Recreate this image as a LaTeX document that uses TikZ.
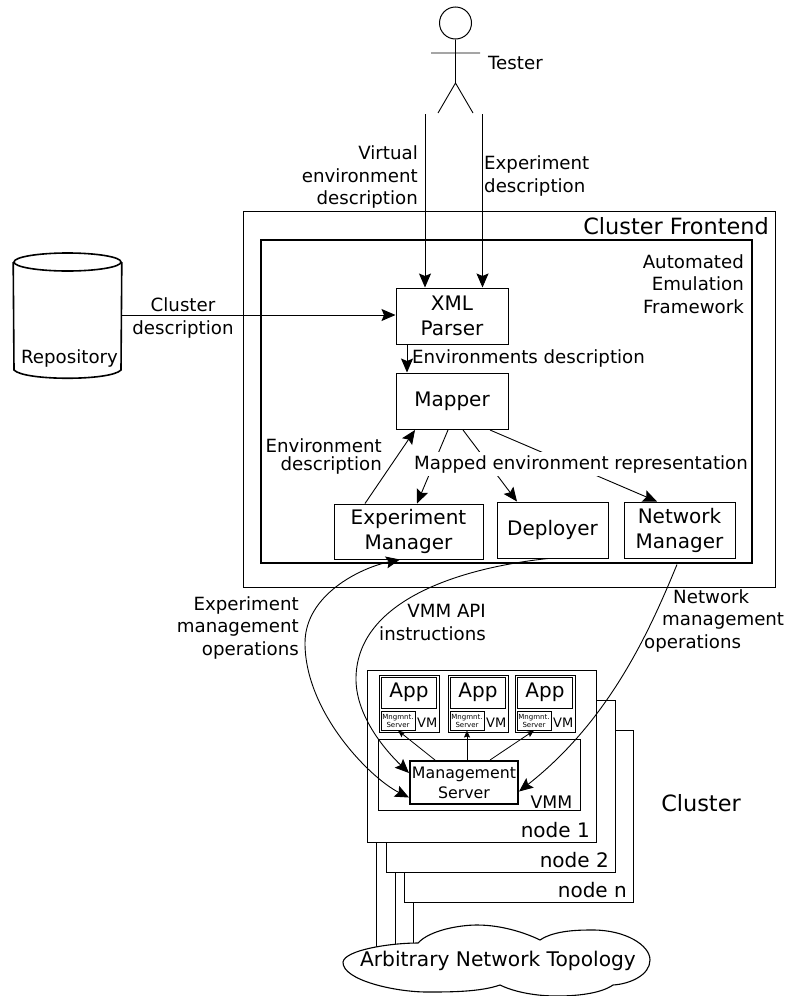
\documentclass[tikz,border=0pt]{standalone}
\usepackage{fontspec}
\setmainfont{DejaVu Sans}
\usetikzlibrary{arrows.meta, shapes.geometric}

\begin{document}
\begin{tikzpicture}[x=1pt, y=-1pt, >={Stealth[length=14pt,width=12pt,inset=2.5pt]},
  lbl/.style={inner sep=0pt, align=center, font=\fontsize{18.2}{22.7}\selectfont},
  box/.style={draw, fill=white, line width=1pt, inner sep=0pt, align=center, font=\fontsize{20}{25}\selectfont},
  arr/.style={->, line width=0.9pt},
  tinyarr/.style={-{Stealth[length=7pt,width=6pt,inset=1pt]}, line width=0.8pt}]
\useasboundingbox (0,0) rectangle (786,996);

% Tester
\node[draw, circle, line width=1pt, minimum size=32pt, inner sep=0pt] (head) at (455.5,23) {};
\coordinate (hip) at (455.5,83);
\coordinate (armL) at (431,53);
\coordinate (armR) at (480,53);
\coordinate (footL) at (438,113);
\coordinate (footR) at (473,113);
\draw[line width=0.9pt] (head.south)--(hip) (armL)--(armR) (footL)--(hip)--(footR);
\node[lbl, anchor=west] (tester) at (488,63) {Tester};

% Frontend
\node[draw, line width=1pt, minimum width=532pt, minimum height=376pt] (frontend) at (509,399) {};
\node[inner sep=0pt, anchor=north east, font=\fontsize{22.4}{26}\selectfont] (frontendlbl) at (769,217) {Cluster Frontend};
\node[draw, line width=2pt, minimum width=491pt, minimum height=323pt] (aef) at (506.5,401.5) {};
\node[lbl, align=right, anchor=north east] (aeflbl) at (744,254) {Automated\\Emulation\\Framework};

% Components
\node[box, minimum width=112pt, minimum height=56pt] (parser) at (452,316) {XML\\Parser};
\node[box, minimum width=112pt, minimum height=56.5pt] (mapper) at (452,401.25) {Mapper};
\node[box, minimum width=149pt, minimum height=55pt] (expman) at (408.5,531.5) {Experiment\\Manager};
\node[box, minimum width=111pt, minimum height=56pt] (deployer) at (552.5,530) {Deployer};
\node[box, minimum width=111pt, minimum height=56pt] (netman) at (679.5,530) {Network\\Manager};

% Repository
\node[draw, ellipse, line width=1.6pt, minimum width=107pt, minimum height=18pt, inner sep=0pt] (repotop) at (67.5,262) {};
\coordinate (repobl) at (14,370);
\coordinate (repobr) at (121,370);
\coordinate (repo) at (121,315);
\draw[line width=1.6pt] (repotop.west)--(repobl) .. controls (24,381) and (111,381) .. (repobr)--(repotop.east);
\node[lbl, anchor=south] (repolbl) at (69.5,367) {Repository};

% Input arrows
\coordinate (virt) at (425,114);
\coordinate (expd) at (482.5,114);
\draw[arr] (virt)--(virt |- parser.north);
\draw[arr] (expd)--(expd |- parser.north);
\draw[arr] (repo)--(repo -| parser.west);
\draw[arr] ([xshift=-45pt]parser.south)--([xshift=-45pt]mapper.north);
\node[lbl, align=right, anchor=north east] (virtlbl) at (418,145.5) {Virtual\\environment\\description};
\node[lbl, align=left, anchor=north west] (expdlbl) at (484,155.5) {Experiment\\description};
\node[lbl, anchor=center] (repoarrlbl) at (183,318) {Cluster\\description};
\node[lbl, anchor=west] (envslbl) at (412,358) {Environments description};

% Mapper edges
\draw[arr] ([xshift=-43.5pt]expman.north)--([xshift=-37pt]mapper.south);
\draw[arr] ([xshift=-4pt]mapper.south)--([xshift=8.5pt]expman.north);
\draw[arr] ([xshift=11pt]mapper.south)--([xshift=-35.5pt]deployer.north);
\draw[arr] ([xshift=38pt]mapper.south)--([xshift=-22.5pt]netman.north);
\node[lbl, align=right, anchor=north east] (envlbl) at (382,438) {Environment\\[-4.5pt]description};
\node[lbl, fill=white, anchor=west, inner xsep=1pt, inner ysep=3pt] (mappedlbl) at (413,464) {Mapped environment representation};

% Nodes
\draw[line width=1pt] (376,830)--(376,950) (395,860)--(395,950) (413,890)--(413,950);
\foreach \i/\cx/\cy/\name in {n/519/816/node n,2/501/786.5/node 2,1/482/756/node 1}{
  \node[draw, fill=white, line width=1pt, minimum width=229pt, minimum height=172pt] (host\i) at (\cx,\cy) {};
  \node[inner sep=0pt, anchor=south east, font=\fontsize{20}{24}\selectfont] (host\i lbl) at ([xshift=-7pt,yshift=5pt]host\i.south east) {\name};
}

% VMs
\foreach \i/\cx in {1/409,2/478,3/545}{
  \node[draw, line width=1pt, minimum width=60pt, minimum height=57pt] (vm\i) at (\cx,703.5) {};
  \node[box, minimum width=55pt, minimum height=31pt, line width=1pt] (app\i) at (\cx,692.5) {App};
  \node[draw, fill=white, line width=1pt, minimum width=34pt, minimum height=19pt, inner sep=0pt, align=center, font=\fontsize{7}{8}\selectfont] (mng\i) at (\cx-11,720.5) {Mngmnt.\\Server};
  \node[inner sep=0pt, anchor=east, font=\fontsize{13}{15}\selectfont] (vmlbl\i) at ([xshift=-2pt,yshift=10pt]vm\i.south east) {VM};
}

% VMM
\node[draw, line width=1pt, minimum width=202pt, minimum height=71pt] (vmm) at (479,774.5) {};
\node[inner sep=0pt, anchor=south east, font=\fontsize{17.3}{20}\selectfont] (vmmlbl) at ([xshift=-8pt,yshift=2pt]vmm.south east) {VMM};
\node[draw, fill=white, line width=2pt, minimum width=108pt, minimum height=43pt, inner sep=0pt, align=center, font=\fontsize{15.8}{20}\selectfont] (mgmt) at (464,782.5) {Management\\Server};
\draw[tinyarr] ([xshift=-29pt]mgmt.north)--(mng1.south);
\draw[tinyarr] ([xshift=3pt]mgmt.north)--(mng2.south);
\draw[tinyarr] ([xshift=26pt]mgmt.north)--(mng3.south);

% Long curves
\draw[arr, <->] ([yshift=-15pt]mgmt.west) .. controls (370,778) and (305,712) .. (305,643) .. controls (305,595) and (360,568) .. ([xshift=-8.5pt]expman.south);
\draw[arr] ([xshift=-4.5pt]deployer.south) .. controls (460,568) and (358,600) .. (356,677) .. controls (355,715) and (385,750) .. ([yshift=-13pt]mgmt.north west);
\draw[arr] ([xshift=-2.5pt,yshift=-6pt]netman.south) .. controls (650,630) and (610,720) .. ([yshift=-9pt]mgmt.east);
\node[lbl, align=right, anchor=north east] (expmgmtlbl) at (299,596) {Experiment\\management\\operations};
\node[lbl, align=right, anchor=north east] (vmmapilbl) at (486,604) {VMM API\\instructions};
\node[lbl, align=left, anchor=north west] (netmgmtlbl) at (644,589) {\hspace*{29pt}Network\\\hspace*{18pt}management\\operations};
\node[inner sep=0pt, font=\fontsize{22.4}{26}\selectfont] (clusterlbl) at (701,803) {Cluster};

% Cloud
\path[draw, fill=white, line width=1.1pt] (343,962) .. controls (345,950) and (390,943) .. (418,943)
  .. controls (430,930) and (460,925) .. (477,925) .. controls (505,925) and (530,935) .. (540,940)
  .. controls (555,930) and (580,930) .. (593,930) .. controls (625,930) and (650,945) .. (650,960)
  .. controls (650,975) and (630,984) .. (613,985) .. controls (600,994) and (575,996) .. (557,996)
  .. controls (530,996) and (510,990) .. (500,985) .. controls (480,992) and (450,992) .. (427,992)
  .. controls (395,992) and (342,980) .. (343,962) -- cycle;
\node[inner sep=0pt, font=\fontsize{20.2}{24}\selectfont] (cloudlbl) at (498,961) {Arbitrary Network Topology};
\end{tikzpicture}
\end{document}
